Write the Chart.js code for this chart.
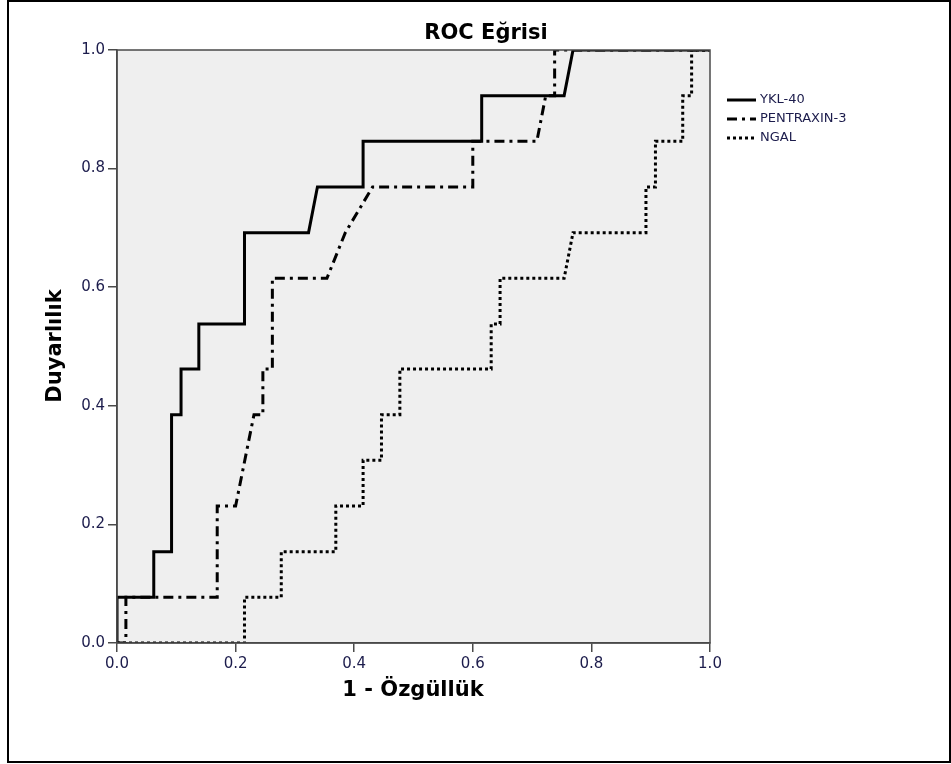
<!DOCTYPE html>
<html>
<head>
<meta charset="utf-8">
<script src="https://cdn.jsdelivr.net/npm/chart.js@4"></script>
<style>
  html, body { margin: 0; padding: 0; background: #fff; }
  canvas { display: block; }
</style>
</head>
<body>
<canvas id="chart" width="951" height="764"></canvas>
<script>
// ROC curves, 1 - specificity (x) vs sensitivity (y)
const seriesNames = ['YKL-40', 'PENTRAXIN-3', 'NGAL'];
const tickValues = [0, 0.2, 0.4, 0.6, 0.8, 1.0];

const ykl40X = [0, 0, 0.062, 0.062, 0.092, 0.092, 0.108, 0.108, 0.138, 0.138, 0.215, 0.215, 0.323, 0.338, 0.415, 0.415, 0.615, 0.615, 0.754, 0.769, 1];
const ykl40Y = [0, 0.077, 0.077, 0.154, 0.154, 0.385, 0.385, 0.462, 0.462, 0.538, 0.538, 0.692, 0.692, 0.769, 0.769, 0.846, 0.846, 0.923, 0.923, 1, 1];

const ptx3X = [0, 0.015, 0.015, 0.169, 0.169, 0.2, 0.231, 0.246, 0.246, 0.262, 0.262, 0.354, 0.385, 0.431, 0.6, 0.6, 0.708, 0.723, 0.738, 0.738, 1];
const ptx3Y = [0, 0, 0.077, 0.077, 0.231, 0.231, 0.385, 0.385, 0.462, 0.462, 0.615, 0.615, 0.692, 0.769, 0.769, 0.846, 0.846, 0.923, 0.923, 1, 1];

const ngalX = [0, 0.215, 0.215, 0.277, 0.277, 0.369, 0.369, 0.415, 0.415, 0.446, 0.446, 0.477, 0.477, 0.631, 0.631, 0.646, 0.646, 0.754, 0.769, 0.892, 0.892, 0.908, 0.908, 0.954, 0.954, 0.969, 0.969, 1];
const ngalY = [0, 0, 0.077, 0.077, 0.154, 0.154, 0.231, 0.231, 0.308, 0.308, 0.385, 0.385, 0.462, 0.462, 0.538, 0.538, 0.615, 0.615, 0.692, 0.692, 0.769, 0.769, 0.846, 0.846, 0.923, 0.923, 1, 1];

function toPoints(xs, ys) {
    return xs.map((x, i) => ({ x: x, y: ys[i] }));
}

const labelColor = '#1c1c4c';
const axisColor = '#4a4a4a';

// plot background, frames, titles and legend
const decor = {
    id: 'decor',
    beforeDraw(chart) {
        const ctx = chart.ctx;
        const a = chart.chartArea;
        ctx.save();
        ctx.fillStyle = '#fff';
        ctx.fillRect(0, 0, chart.width, chart.height);
        ctx.fillStyle = '#efefef';
        ctx.fillRect(a.left, a.top, a.right - a.left, a.bottom - a.top);
        ctx.restore();
    },
    afterDraw(chart) {
        const ctx = chart.ctx;
        const a = chart.chartArea;
        ctx.save();
        // plot frame
        ctx.strokeStyle = axisColor;
        ctx.lineWidth = 1.5;
        ctx.strokeRect(a.left, a.top, a.right - a.left, a.bottom - a.top);
        // outer frame
        ctx.strokeStyle = '#000';
        ctx.lineWidth = 2;
        ctx.strokeRect(8, 1, 942, 761);

        ctx.fillStyle = '#000';
        ctx.textAlign = 'center';
        ctx.textBaseline = 'middle';
        ctx.font = 'bold 21px "DejaVu Sans"';
        ctx.fillText('ROC Eğrisi', 486, 34);

        ctx.font = 'bold 21px "DejaVu Sans"';
        ctx.fillText('1 - Özgüllük', 413, 691);

        ctx.translate(56, 346);
        ctx.rotate(-Math.PI / 2);
        ctx.fillText('Duyarlılık', 0, 0);
        ctx.restore();

        // legend
        ctx.save();
        ctx.font = '13px "DejaVu Sans"';
        ctx.textAlign = 'left';
        ctx.textBaseline = 'middle';
        chart.data.datasets.forEach((ds, i) => {
            const y = 100 + i * 19;
            ctx.strokeStyle = '#000';
            ctx.lineWidth = ds.borderWidth;
            ctx.setLineDash(ds.borderDash || []);
            ctx.beginPath();
            ctx.moveTo(727, y);
            ctx.lineTo(756, y);
            ctx.stroke();
            ctx.fillStyle = labelColor;
            ctx.fillText(ds.label, 760, y);
        });
        ctx.restore();
    }
};

const axisCommon = {
    type: 'linear',
    min: 0,
    max: 1,
    grid: {
        display: true,
        drawOnChartArea: false,
        drawTicks: true,
        tickLength: 9,
        color: axisColor,
        lineWidth: 1.5
    },
    border: { display: true, color: axisColor, width: 1.5 },
    afterBuildTicks: (scale) => {
        scale.ticks = tickValues.map(v => ({ value: v }));
    },
    ticks: {
        color: labelColor,
        font: { family: 'DejaVu Sans', size: 15 },
        padding: 3,
        callback: (v) => Number(v).toFixed(1)
    }
};

new Chart(document.getElementById('chart'), {
    type: 'scatter',
    data: {
        datasets: [
            {
                label: seriesNames[0],
                data: toPoints(ykl40X, ykl40Y),
                showLine: true,
                borderColor: '#000',
                borderWidth: 3,
                pointRadius: 0,
                fill: false
            },
            {
                label: seriesNames[1],
                data: toPoints(ptx3X, ptx3Y),
                showLine: true,
                borderColor: '#000',
                borderWidth: 3,
                borderDash: [10, 5, 3, 5],
                pointRadius: 0,
                fill: false
            },
            {
                label: seriesNames[2],
                data: toPoints(ngalX, ngalY),
                showLine: true,
                borderColor: '#000',
                borderWidth: 3,
                borderDash: [3, 3],
                pointRadius: 0,
                fill: false
            }
        ]
    },
    options: {
        responsive: false,
        devicePixelRatio: 1,
        animation: false,
        layout: { padding: { left: 20, right: 241, top: 50, bottom: 20 } },
        plugins: {
            legend: { display: false },
            title: { display: false },
            tooltip: { enabled: false }
        },
        scales: {
            x: Object.assign({}, axisCommon, {
                position: 'bottom',
                afterFit: (scale) => { scale.height = 764 - 643 - 20; }
            }),
            y: Object.assign({}, axisCommon, {
                position: 'left',
                afterFit: (scale) => { scale.width = 117 - 20; }
            })
        }
    },
    plugins: [decor]
});
</script>
</body>
</html>
